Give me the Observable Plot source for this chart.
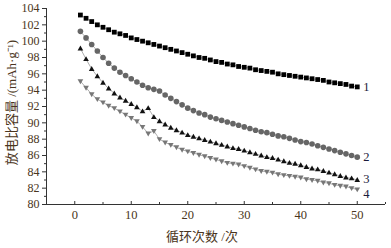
<!DOCTYPE html>
<html>
<head>
<meta charset="utf-8">
<script src="https://cdn.jsdelivr.net/npm/d3@7"></script>
<script src="https://cdn.jsdelivr.net/npm/@observablehq/plot@0.6"></script>
<style>
  html, body { margin: 0; padding: 0; background: #fff; }
  #chart svg { display: block; }
</style>
</head>
<body>
<div id="chart"></div>
<script>
const cycles = d3.range(1, 51);
const series1 = [103.2,102.8,102.4,102.0,101.7,101.4,101.1,100.9,100.7,100.4,
                 100.2,100.0,99.8,99.6,99.4,99.2,99.0,98.8,98.6,98.4,
                 98.2,98.0,97.9,97.7,97.5,97.4,97.2,97.1,96.9,96.8,
                 96.7,96.5,96.4,96.3,96.2,96.0,95.9,95.8,95.7,95.6,
                 95.5,95.4,95.3,95.2,95.0,94.9,94.8,94.7,94.5,94.4];
const series2 = [101.2,100.4,99.6,98.8,98.0,97.3,96.7,96.2,95.8,95.4,
                 95.0,94.6,94.3,94.1,93.9,93.4,93.0,92.6,92.2,91.8,
                 91.5,91.2,91.0,90.7,90.5,90.3,90.1,89.9,89.7,89.5,
                 89.3,89.1,88.9,88.8,88.6,88.4,88.3,88.1,87.9,87.7,
                 87.6,87.4,87.2,87.0,86.8,86.6,86.4,86.2,86.0,85.8];
const series3 = [99.1,97.8,96.6,95.7,94.9,94.2,93.6,93.1,92.7,92.3,
                 91.9,91.4,91.8,90.7,90.2,89.8,89.4,89.1,88.8,88.5,
                 88.3,88.1,87.9,87.7,87.5,87.3,87.1,86.9,86.8,86.6,
                 86.4,86.2,86.0,85.8,85.7,85.5,85.3,85.1,85.0,84.8,
                 84.6,84.4,84.3,84.1,83.9,83.7,83.5,83.3,83.2,83.0];
const series4 = [95.1,94.3,93.5,92.9,92.5,92.1,91.8,91.4,91.0,90.6,
                 90.2,89.5,88.7,89.0,88.0,87.6,87.3,87.0,86.7,86.5,
                 86.3,86.1,85.9,85.7,85.5,85.3,85.1,85.0,84.9,84.7,
                 84.5,84.3,84.1,84.0,83.9,83.7,83.6,83.5,83.4,83.3,
                 83.1,83.0,82.9,82.7,82.6,82.4,82.3,82.2,82.0,81.85];
const seriesNames = ["1", "2", "3", "4"];
const yTicks = d3.range(80, 105, 2);
const yMinor = d3.range(81, 104, 2);
const xTicks = [0, 10, 20, 30, 40, 50];
const xMinor = [-5, 5, 15, 25, 35, 45, 55];
const xTitle = "循环次数 /次";
const yTitle = "放电比容量 /(mAh·g⁻¹)";

const allSeries = [series1, series2, series3, series4];
const table = allSeries.map((vals, i) => vals.map((v, j) => ({s: seriesNames[i], x: cycles[j], y: v})));

const downTriangle = {
  draw(context, size) {
    const w = Math.sqrt(size) * 1.1;
    const h = w * 0.87;
    context.moveTo(0, h * 0.6);
    context.lineTo(w / 2, -h * 0.4);
    context.lineTo(-w / 2, -h * 0.4);
    context.closePath();
  }
};
const upTriangle = {
  draw(context, size) {
    const w = Math.sqrt(size) * 1.1;
    const h = w * 0.87;
    context.moveTo(0, -h * 0.6);
    context.lineTo(w / 2, h * 0.4);
    context.lineTo(-w / 2, h * 0.4);
    context.closePath();
  }
};

const serif = '"Liberation Serif", "Noto Sans CJK SC", serif';
const textColor = "#4a3520";
const ends = allSeries.map((vals, i) => ({s: seriesNames[i], x: cycles[cycles.length - 1], y: vals[vals.length - 1]}));

const chart = Plot.plot({
  width: 391,
  height: 248,
  marginLeft: 46,
  marginRight: 6,
  marginTop: 8,
  marginBottom: 44,
  style: {fontFamily: serif, color: textColor, background: "#fff"},
  x: {domain: [-5, 55]},
  y: {domain: [80, 104]},
  marks: [
    Plot.axisY({ticks: yTicks, tickSize: 4, tickPadding: 3, fontSize: 12, label: null, stroke: "#333"}),
    Plot.axisY({ticks: yMinor, tickSize: 2, text: null, label: null, stroke: "#333"}),
    Plot.axisX({ticks: xTicks, tickSize: -3, tickPadding: 9, fontSize: 12.5, label: null, stroke: "#333"}),
    Plot.axisX({ticks: xMinor, tickSize: -2, text: null, label: null, stroke: "#333"}),
    Plot.ruleY([80], {stroke: "#333", strokeWidth: 1}),
    Plot.ruleX([-5], {stroke: "#333", strokeWidth: 1}),
    ...table.map(d => Plot.line(d, {x: "x", y: "y", stroke: "#999", strokeWidth: 0.8})),
    Plot.dot(table[0], {x: "x", y: "y", symbol: "square", r: 2.7, fill: "#000", stroke: "none"}),
    Plot.dot(table[1], {x: "x", y: "y", symbol: "circle", r: 2.8, fill: "#666", stroke: "none"}),
    Plot.dot(table[2], {x: "x", y: "y", symbol: upTriangle, r: 2.9, fill: "#111", stroke: "none"}),
    Plot.dot(table[3], {x: "x", y: "y", symbol: downTriangle, r: 2.9, fill: "#777", stroke: "none"}),
    Plot.text(ends.slice(0, 2), {x: "x", y: "y", text: "s", dx: 6, textAnchor: "start", fontSize: 12.5, fill: "#1a1a3a"}),
    Plot.text(ends.slice(2, 3), {x: "x", y: "y", text: "s", dx: 6, dy: -1, textAnchor: "start", fontSize: 12.5, fill: "#1a1a3a"}),
    Plot.text(ends.slice(3), {x: "x", y: "y", text: "s", dx: 6, dy: 5, textAnchor: "start", fontSize: 12.5, fill: "#1a1a3a"}),
    Plot.text([yTitle], {frameAnchor: "left", textAnchor: "middle", rotate: -90, dx: -35, dy: -4, fontSize: 13, fill: textColor}),
    Plot.text([xTitle], {frameAnchor: "bottom", textAnchor: "middle", dy: 36, dx: -14, fontSize: 13, fill: textColor})
  ]
});
document.getElementById("chart").appendChild(chart);
</script>
</body>
</html>
